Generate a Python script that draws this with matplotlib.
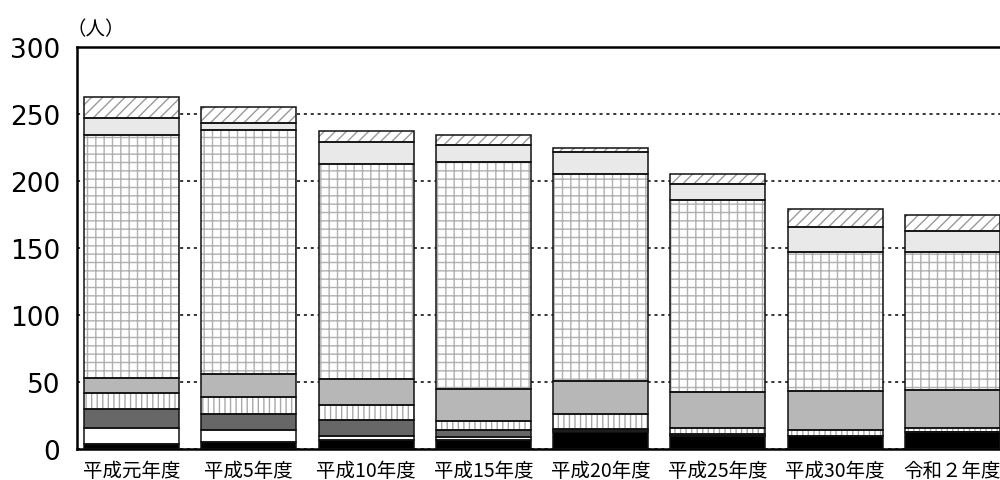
import matplotlib.pyplot as plt
import numpy as np

plt.rcParams['font.family'] = ['Noto Sans CJK JP', 'DejaVu Sans']
plt.rcParams['hatch.linewidth'] = 1.0

# 年度別の人数（下の区分から順に積み上げ）
years = ['平成元年度', '平成5年度', '平成10年度', '平成15年度',
         '平成20年度', '平成25年度', '平成30年度', '令和２年度']
seg_black   = [4, 5, 7, 7, 13, 10, 10, 13]
seg_white   = [12, 9, 3, 2, 1, 0.5, 0, 0]
seg_dark    = [14, 12, 12, 5, 1, 1, 0, 0]
seg_stripe  = [12, 13, 11, 7, 11, 4, 4, 3]
seg_gray    = [11, 17, 19, 24, 25, 27, 29, 28]
seg_grid    = [181, 182, 161, 169, 154, 143, 104, 103]
seg_light   = [13, 5, 16, 13, 17, 12, 19, 16]
seg_hatch   = [16, 12, 8, 7, 3, 8, 13, 12]

segments = [seg_black, seg_white, seg_dark, seg_stripe,
            seg_gray, seg_grid, seg_light, seg_hatch]
# 塗り色, ハッチ, ハッチ線の色
styles = [
    ('#000000', None, None),
    ('#ffffff', None, None),
    ('#676767', None, None),
    ('#ffffff', '|||', '#a8a8a8'),
    ('#b6b7b6', None, None),
    ('#ffffff', '++', '#b0b0b0'),
    ('#e8e9e8', None, None),
    ('#ffffff', '///', '#9a9a9a'),
]

fig = plt.figure(figsize=(10, 4.81), dpi=100)
ax = fig.add_axes([0.077, 0.0644, 0.93, 0.8358])

x = np.arange(len(years))
width = 0.81
bottom = np.zeros(len(years))
for vals, (fc, hatch, hc) in zip(segments, styles):
    vals = np.array(vals, dtype=float)
    if hatch:
        ax.bar(x, vals, width, bottom=bottom, color=fc, hatch=hatch,
               edgecolor=hc, linewidth=0, zorder=2)
    else:
        ax.bar(x, vals, width, bottom=bottom, color=fc, linewidth=0, zorder=2)
    ax.bar(x, vals, width, bottom=bottom, fill=False, edgecolor='#111111',
           linewidth=1.1, zorder=3)
    bottom += vals

ax.set_xlim(-0.465, 7.465)
ax.set_ylim(0, 300)
ax.set_yticks(np.arange(0, 301, 50))
ax.set_xticks(x)
ax.set_xticklabels(years, fontsize=14)
ax.tick_params(axis='y', length=0, pad=12, labelsize=19)
ax.tick_params(axis='x', length=0, pad=8)
for lbl in ax.get_yticklabels():
    lbl.set_family(['DejaVu Sans'])

ax.grid(axis='y', color='black', linestyle=(0, (2, 2.5)), linewidth=1.1, zorder=1)
ax.set_axisbelow(True)

for side in ['left', 'top', 'bottom']:
    ax.spines[side].set_linewidth(1.8)
ax.spines['right'].set_visible(False)

fig.text(0.066, 0.938, '（人）', fontsize=14, ha='left', va='center')

fig.savefig('out.png', dpi=100)
